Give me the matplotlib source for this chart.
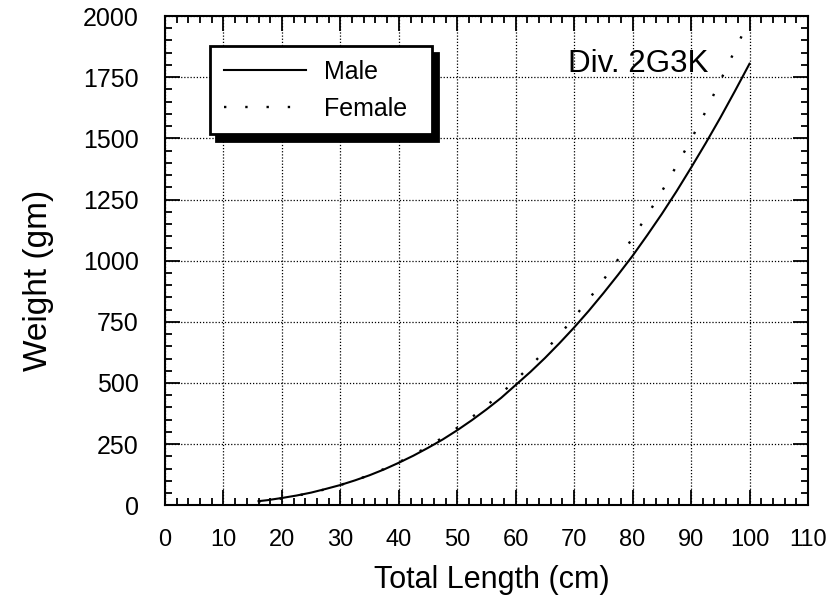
import matplotlib
matplotlib.use("Agg")
import matplotlib.pyplot as plt
from matplotlib.ticker import MultipleLocator

plt.rcParams['font.family'] = ['Liberation Sans', 'DejaVu Sans']

# Length-weight relationship, Div. 2G3K
length_cm = [16, 17.5, 20, 22.5, 25, 27.5, 30, 32.5, 35, 37.5, 40, 42.5, 45, 47.5,
             50, 52.5, 55, 57.5, 60, 62.5, 65, 67.5, 70, 72.5, 75, 77.5, 80, 82.5,
             85, 87.5, 90, 92.5, 95, 97.5, 100]
male_weight = [17, 21, 30, 40, 52, 67, 83, 102, 123, 147, 174, 203, 235, 269,
               307, 348, 392, 439, 492, 545, 602, 663, 727, 795, 867, 942, 1020, 1104,
               1191, 1283, 1380, 1480, 1584, 1693, 1805]
female_weight = [16, 20, 28, 39, 51, 66, 83, 102, 124, 149, 176, 207, 240, 277,
                 317, 360, 407, 457, 512, 569, 631, 697, 768, 842, 921, 1005, 1093, 1186,
                 1283, 1387, 1495, 1610, 1735, 1860, 1985]

x_ticks = list(range(0, 111, 10))
y_ticks = list(range(0, 2001, 250))

fig = plt.figure(figsize=(8.39, 6.02), dpi=100)
ax = fig.add_axes([0.1967, 0.1606, 0.7663, 0.8128])

ax.plot(length_cm, male_weight, color='black', lw=1.5, label='Male')
ax.plot(length_cm, female_weight, color='black', lw=1.7,
        linestyle=(0, (1, 8)), label='Female')

ax.set_xlim(0, 110)
ax.set_ylim(0, 2000)
ax.set_xticks(x_ticks)
ax.set_yticks(y_ticks)
ax.xaxis.set_minor_locator(MultipleLocator(2))
ax.yaxis.set_minor_locator(MultipleLocator(50))

ax.tick_params(which='both', direction='in', top=True, right=True,
               width=1.3, colors='black')
ax.tick_params(which='major', length=11)
ax.tick_params(which='minor', length=5)
ax.tick_params(axis='x', which='major', pad=17, labelsize=17)
ax.tick_params(axis='y', which='major', pad=19, labelsize=18)

for s in ax.spines.values():
    s.set_linewidth(1.5)

ax.grid(True, which='major', color='black', linestyle=(0, (1, 1.5)), lw=0.9)

ax.set_xlabel('Total Length (cm)', fontsize=22)
ax.set_ylabel('Weight (gm)', fontsize=24)
ax.xaxis.set_label_coords(0.509, -0.122)
ax.yaxis.set_label_coords(-0.172, 0.46)

ax.text(69, 1805, 'Div. 2G3K', fontsize=22.5, va='center', ha='left')

leg = ax.legend(loc='upper left', bbox_to_anchor=(0.070, 0.5, 0.345, 0.438),
                mode='expand', fontsize=18, frameon=True, fancybox=False,
                shadow={'ox': 4.5, 'oy': -5, 'color': 'black', 'alpha': 1},
                handlelength=3.3, handletextpad=0.7, borderpad=0.55,
                labelspacing=0.5, borderaxespad=0)
leg.get_frame().set_edgecolor('black')
leg.get_frame().set_linewidth(2)
leg.get_frame().set_alpha(1)

fig.savefig('out.png', dpi=100)
